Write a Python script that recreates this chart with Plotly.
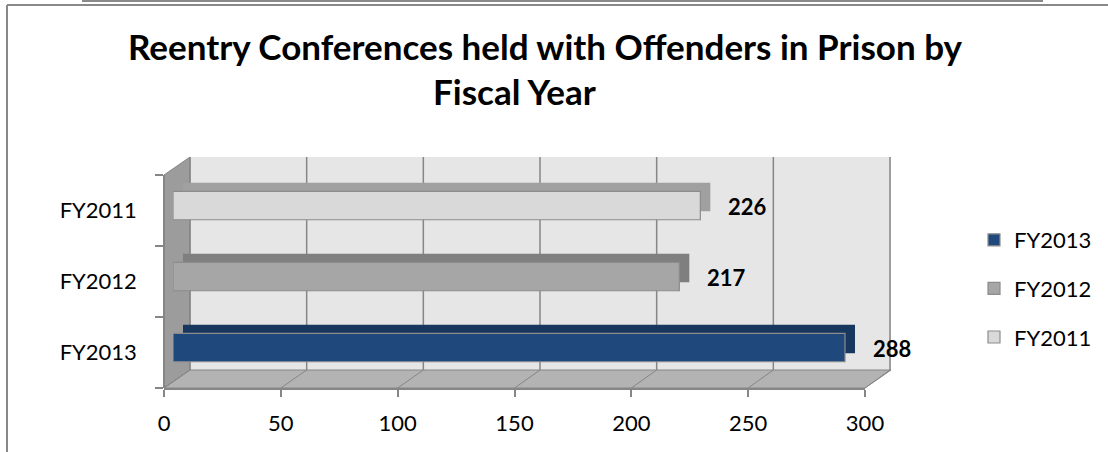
import plotly.graph_objects as go

W, H = 1108, 452

# data
categories = ['FY2013', 'FY2012', 'FY2011']
values = [288, 217, 226]
x_ticks = [0, 50, 100, 150, 200, 250, 300]

front_colors = ['#1F497D', '#A6A6A6', '#D9D9D9']
top_colors = ['#17375E', '#7F7F7F', '#A0A0A0']

FONT = 'Lato'
GRID = '#868686'


def fx(px):
    return px / W


def fy(py):
    return 1 - py / H


def path(points):
    return 'M' + ' L'.join(f'{fx(a)},{fy(b)}' for a, b in points) + ' Z'


# 3d depth of the bars, in data units of the bar axes
bar_scale = 700 / 300
band = 213 / 3
depth_x = 10 / bar_scale
depth_y = 8.5 / band
bar_w = 0.40
bar_off = -0.13

fig = go.Figure()

# back/top faces of the bars
for cat, val, col in zip(categories, values, top_colors):
    fig.add_trace(go.Bar(
        y=[cat], x=[val], base=depth_x, orientation='h',
        width=bar_w, offset=bar_off + depth_y,
        marker=dict(color=col, line=dict(color=col, width=0)),
        showlegend=False, hoverinfo='skip',
    ))

# front faces
for cat, val, col in zip(categories, values, front_colors):
    fig.add_trace(go.Bar(
        y=[cat], x=[val], orientation='h', name=cat, legendgroup=cat,
        width=bar_w, offset=bar_off,
        marker=dict(color=col, line=dict(color='#8C8C8C', width=1.2)),
    ))

# empty trace so the front value axis gets drawn
fig.add_trace(go.Scatter(x=[], y=[], xaxis='x2', yaxis='y', showlegend=False, hoverinfo='skip'))

# data labels
for cat, val in zip(categories, values):
    fig.add_annotation(
        x=val, y=cat, xref='x', yref='y', text=f'<b>{val}</b>',
        showarrow=False, xanchor='left', yanchor='middle', xshift=26, yshift=4,
        font=dict(family=FONT, size=22, color='black'),
    )

# chart walls (decoration)
shapes = []
shapes.append(dict(type='rect', xref='paper', yref='paper', layer='below',
                   x0=fx(190), x1=fx(891), y0=fy(370), y1=fy(157),
                   fillcolor='#E6E6E6', line=dict(width=0)))
shapes.append(dict(type='path', xref='paper', yref='paper', layer='below',
                   path=path([(164, 175), (190, 157), (190, 370), (164, 388)]),
                   fillcolor='#9C9C9C', line=dict(color=GRID, width=1)))
shapes.append(dict(type='path', xref='paper', yref='paper', layer='below',
                   path=path([(164, 388), (190, 370), (891, 370), (865, 388)]),
                   fillcolor='#B3B3B3', line=dict(color=GRID, width=1)))
for v in x_ticks:
    bx = 190 + v * 700 / 300
    fxp = 164 + v * 701 / 300
    shapes.append(dict(type='line', xref='paper', yref='paper', layer='below',
                       x0=fx(bx), x1=fx(bx), y0=fy(370), y1=fy(157),
                       line=dict(color=GRID, width=1.5)))
    shapes.append(dict(type='line', xref='paper', yref='paper', layer='below',
                       x0=fx(fxp), x1=fx(bx), y0=fy(388), y1=fy(370),
                       line=dict(color=GRID, width=1)))

# outer frames
frame = dict(color='#898989', width=2)
shapes.append(dict(type='line', xref='paper', yref='paper', x0=fx(7), x1=1, y0=fy(5), y1=fy(5), line=frame))
shapes.append(dict(type='line', xref='paper', yref='paper', x0=fx(7), x1=fx(7), y0=fy(5), y1=0, line=frame))
shapes.append(dict(type='path', xref='paper', yref='paper',
                   path=f'M{fx(83)},1.01 L{fx(83)},{fy(1)} L{fx(1042)},{fy(1)} L{fx(1042)},1.01',
                   line=frame))

# title
fig.add_annotation(x=fx(545), y=fy(46), xref='paper', yref='paper', showarrow=False,
                   xanchor='center', yanchor='middle',
                   text='<b>Reentry Conferences held with Offenders in Prison by</b>',
                   font=dict(family=FONT, size=35, color='black'))
fig.add_annotation(x=fx(514), y=fy(91), xref='paper', yref='paper', showarrow=False,
                   xanchor='center', yanchor='middle',
                   text='<b>Fiscal Year</b>',
                   font=dict(family=FONT, size=35, color='black'))

fig.update_layout(
    width=W, height=H,
    margin=dict(l=0, r=0, t=0, b=0, autoexpand=False),
    paper_bgcolor='white',
    plot_bgcolor='rgba(0,0,0,0)',
    barmode='overlay',
    shapes=shapes,
    font=dict(family=FONT, size=22, color='black'),
    xaxis=dict(domain=[fx(173), fx(873)], range=[0, 300], visible=False, fixedrange=True),
    xaxis2=dict(
        domain=[fx(164), fx(865)], range=[0, 300], anchor='y',
        tickvals=x_ticks, ticks='outside', ticklen=7, tickwidth=1.5, tickcolor=GRID,
        showline=True, linecolor=GRID, linewidth=1.5,
        showgrid=False, zeroline=False, ticklabelstandoff=8,
        tickfont=dict(family=FONT, size=22, color='black'),
    ),
    yaxis=dict(
        type='category', categoryorder='array', categoryarray=categories,
        range=[-0.5, 2.5], domain=[fy(388), fy(175)],
        anchor='free', position=fx(164),
        showline=True, linecolor=GRID, linewidth=1.5,
        ticks='outside', tickson='boundaries', ticklen=8, tickwidth=1.5, tickcolor=GRID,
        showgrid=False, zeroline=False, ticklabelstandoff=22,
        tickfont=dict(family=FONT, size=22, color='black'),
    ),
    legend=dict(
        x=fx(974), y=fy(219), xanchor='left', yanchor='top', itemwidth=30,
        font=dict(family=FONT, size=22, color='black'),
        tracegroupgap=17, bgcolor='rgba(0,0,0,0)',
    ),
)

fig.write_html('out.html', config={'displayModeBar': False},
               post_script="document.body.style.margin='0px';")
